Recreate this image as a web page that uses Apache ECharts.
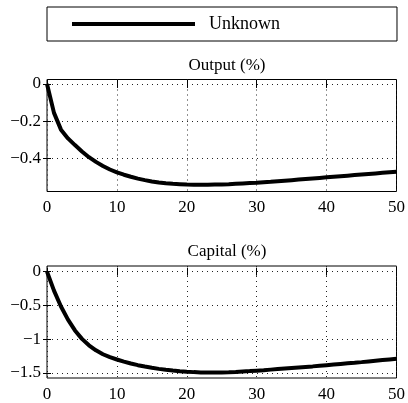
<!DOCTYPE html>
<html>
<head>
<meta charset="utf-8">
<style>
  html, body { margin: 0; padding: 0; background: #fff; }
  #chart { width: 408px; height: 403px; }
</style>
<script src="https://cdn.jsdelivr.net/npm/echarts@6/dist/echarts.min.js"></script>
</head>
<body>
<div id="chart"></div>
<script>
// Impulse responses over 50 periods, in percent deviation
const periods = Array.from({ length: 51 }, (_, i) => i);

const outputPct = [
  0, -0.155, -0.245, -0.292, -0.328, -0.362, -0.393, -0.418, -0.440, -0.459,
  -0.474, -0.487, -0.498, -0.508, -0.516, -0.523, -0.529, -0.533, -0.536, -0.538,
  -0.540, -0.541, -0.541, -0.541, -0.540, -0.539, -0.538, -0.536, -0.534, -0.532,
  -0.530, -0.527, -0.525, -0.522, -0.519, -0.516, -0.513, -0.510, -0.507, -0.504,
  -0.501, -0.498, -0.495, -0.492, -0.489, -0.486, -0.483, -0.480, -0.477, -0.474,
  -0.471
];

const capitalPct = [
  0, -0.28, -0.515, -0.71, -0.87, -0.995, -1.09, -1.165, -1.222, -1.265,
  -1.30, -1.332, -1.36, -1.384, -1.405, -1.423, -1.439, -1.452, -1.463, -1.473,
  -1.481, -1.487, -1.491, -1.493, -1.493, -1.491, -1.488, -1.484, -1.478, -1.472,
  -1.465, -1.458, -1.450, -1.442, -1.434, -1.426, -1.418, -1.410, -1.402, -1.393,
  -1.384, -1.375, -1.366, -1.357, -1.348, -1.339, -1.329, -1.319, -1.309, -1.299,
  -1.289
];

const xTicks = [0, 10, 20, 30, 40, 50];
const outputTicks = [-0.4, -0.2, 0];
const capitalTicks = [-1.5, -1, -0.5, 0];
const outputRange = [-0.577, 0.024];
const capitalRange = [-1.574, 0.084];
const seriesName = 'Unknown';
const panelTitles = ['Output (%)', 'Capital (%)'];

const FONT = '"Liberation Serif", "Times New Roman", serif';
const minus = v => String(v).replace('-', '\u2212');

const grids = [
  { left: 47, right: 11, top: 79.5, height: 112, show: true, borderColor: '#000', borderWidth: 1, backgroundColor: '#fff' },
  { left: 47, right: 11, top: 266, height: 112.5, show: true, borderColor: '#000', borderWidth: 1, backgroundColor: '#fff' }
];

const dotted = { color: '#222', width: 1, type: [1, 4] };

function xAxes(gi) {
  return [
    {
      type: 'value', gridIndex: gi, min: 0, max: 50, position: 'bottom',
      axisLine: { show: false },
      axisTick: { show: true, inside: true, length: 4, customValues: xTicks, lineStyle: { color: '#000' } },
      axisLabel: { fontFamily: FONT, fontSize: 17, color: '#000', margin: 8, customValues: xTicks },
      splitLine: { show: true, lineStyle: dotted }
    },
    {
      type: 'value', gridIndex: gi, min: 0, max: 50, position: 'top',
      axisLine: { show: false },
      axisTick: { show: true, inside: true, length: 4, customValues: xTicks, lineStyle: { color: '#000' } },
      axisLabel: { show: false, customValues: xTicks },
      splitLine: { show: false }
    }
  ];
}

function yAxes(gi, range, ticks) {
  const base = {
    type: 'value', gridIndex: gi, min: range[0], max: range[1],
    axisLine: { show: false }
  };
  return [
    Object.assign({}, base, {
      position: 'left',
      axisTick: { show: true, inside: true, length: 4, customValues: ticks, lineStyle: { color: '#000' } },
      axisLabel: { fontFamily: FONT, fontSize: 17, color: '#000', margin: 6, customValues: ticks, formatter: minus },
      splitLine: { show: true, lineStyle: dotted }
    }),
    Object.assign({}, base, {
      position: 'right',
      axisTick: { show: true, inside: true, length: 4, customValues: ticks, lineStyle: { color: '#000' } },
      axisLabel: { show: false, customValues: ticks },
      splitLine: { show: false }
    })
  ];
}

const lineStyle = { color: '#000', width: 4 };

const option = {
  animation: false,
  backgroundColor: '#fff',
  title: panelTitles.map((t, i) => ({
    text: t, left: 222, top: i === 0 ? 52 : 238, textAlign: 'center',
    textStyle: { fontFamily: FONT, fontSize: 17, fontWeight: 'normal', color: '#000' }
  })),
  legend: {
    data: [seriesName], left: 47, top: 7,
    padding: [8, 117, 8, 25],
    itemWidth: 123, itemHeight: 4, itemGap: 14,
    icon: 'rect',
    borderColor: '#000', borderWidth: 1, backgroundColor: '#fff',
    textStyle: { fontFamily: FONT, fontSize: 18, color: '#000', padding: [0, 0, 0, 9] }
  },
  grid: grids,
  xAxis: [...xAxes(0), ...xAxes(1)],
  yAxis: [...yAxes(0, outputRange, outputTicks), ...yAxes(1, capitalRange, capitalTicks)],
  series: [
    { name: seriesName, type: 'line', xAxisIndex: 0, yAxisIndex: 0, showSymbol: false, symbol: 'none',
      data: periods.map((p, i) => [p, outputPct[i]]), lineStyle, itemStyle: { color: '#000' } },
    { name: seriesName, type: 'line', xAxisIndex: 2, yAxisIndex: 2, showSymbol: false, symbol: 'none',
      data: periods.map((p, i) => [p, capitalPct[i]]), lineStyle, itemStyle: { color: '#000' } }
  ]
};

const chart = echarts.init(document.getElementById('chart'), null, { renderer: 'canvas' });
chart.setOption(option);
</script>
</body>
</html>
